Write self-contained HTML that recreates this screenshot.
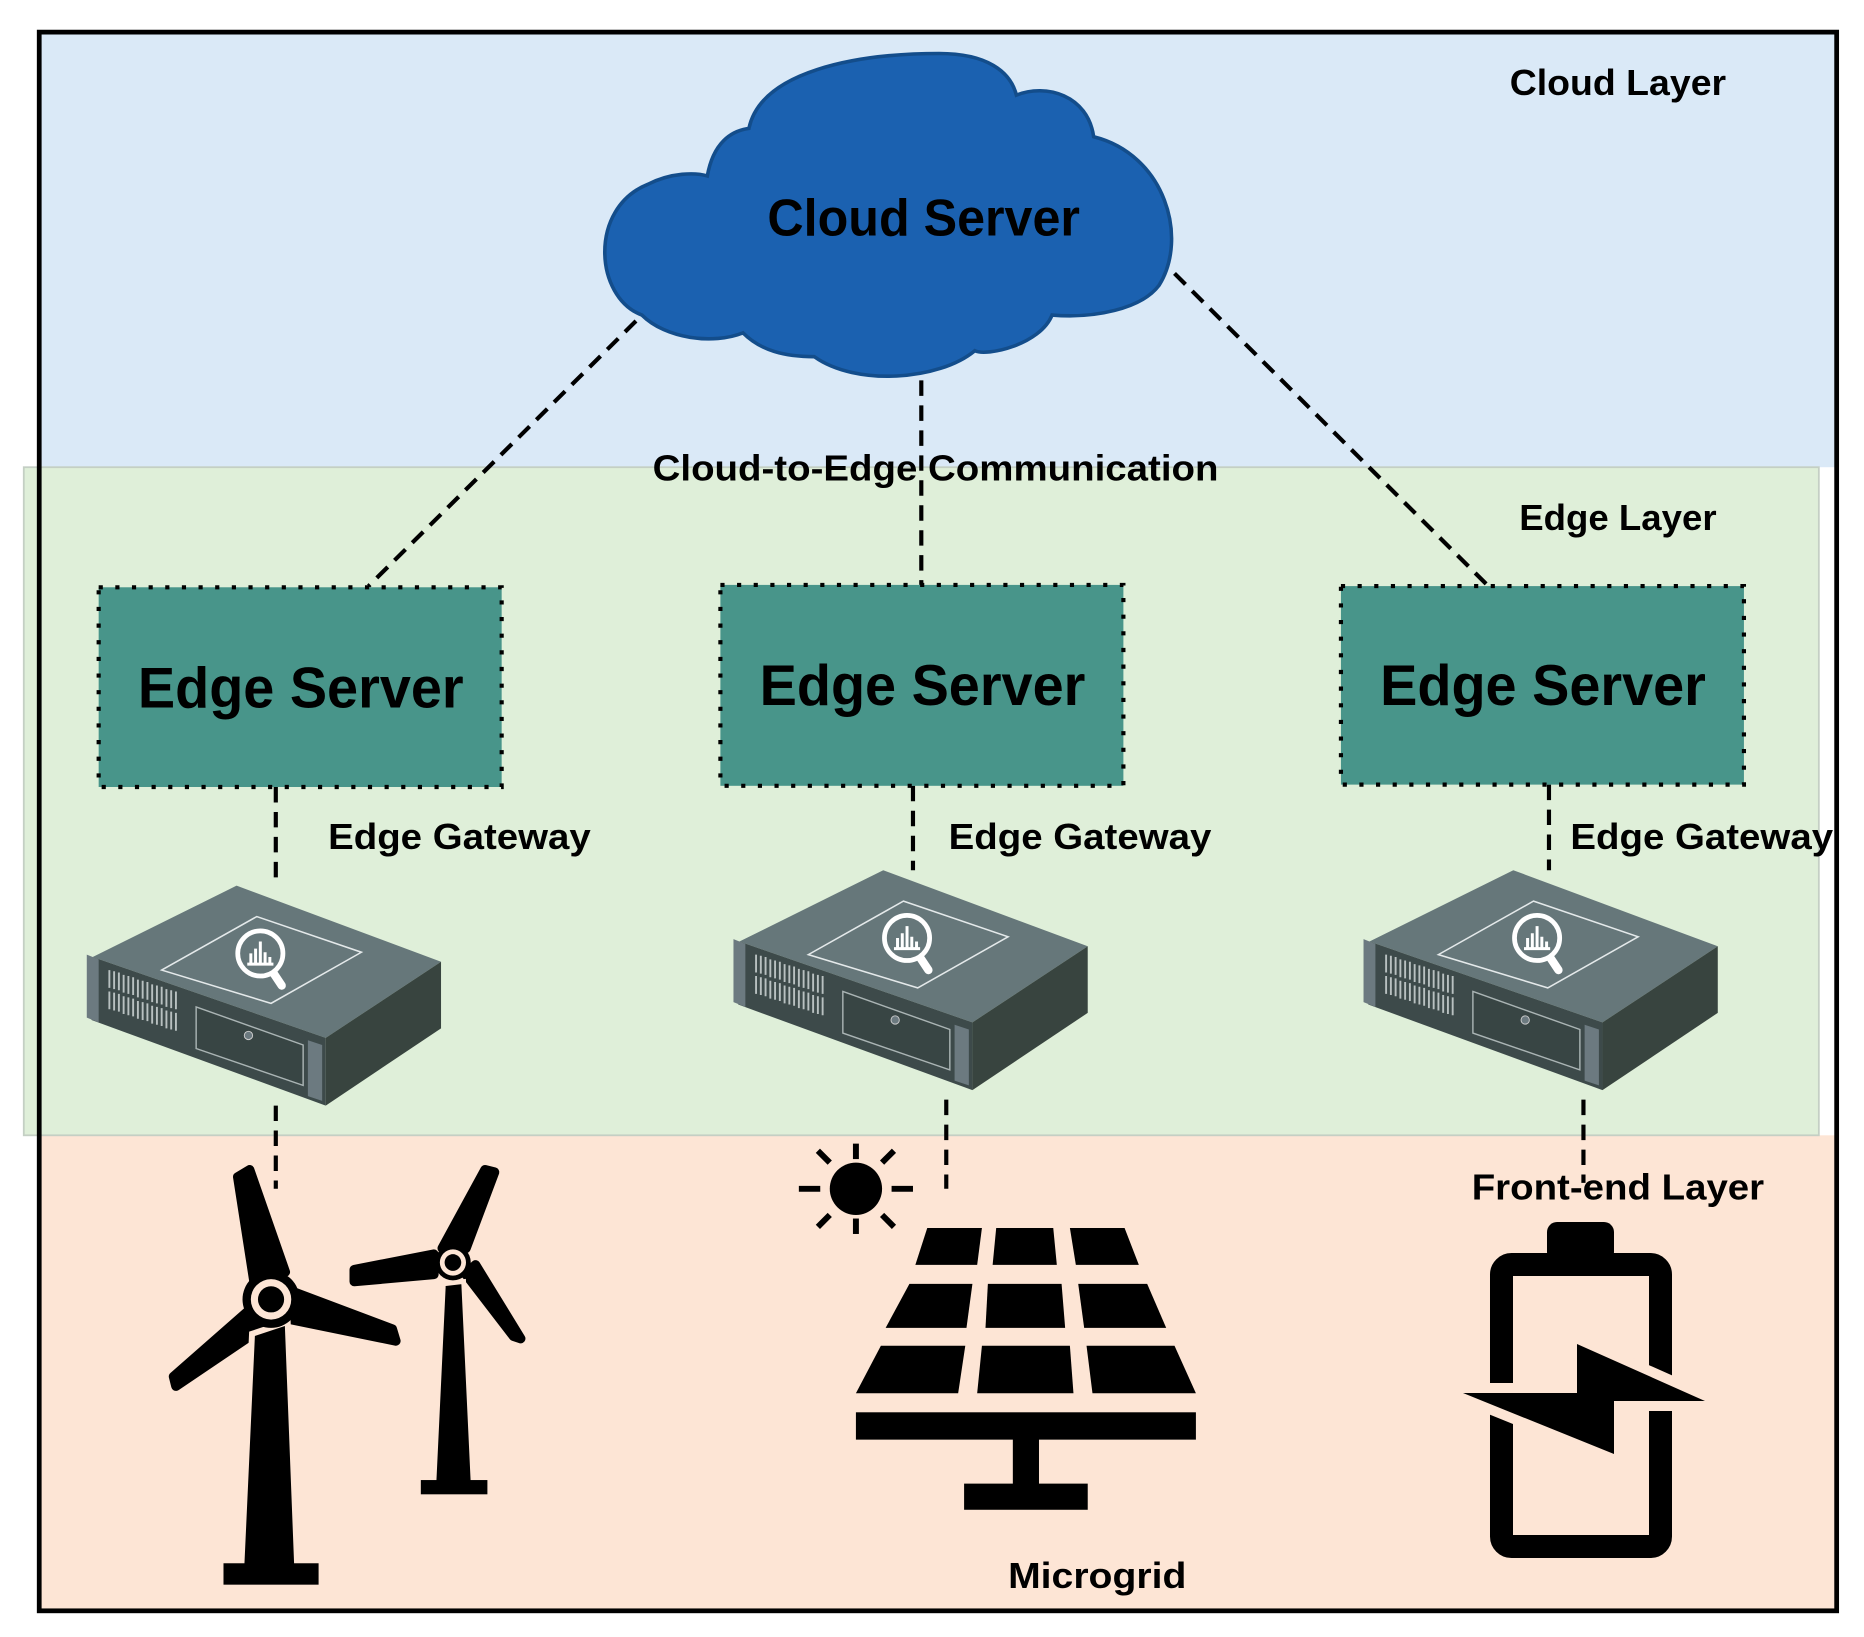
<!DOCTYPE html>
<html><head><meta charset="utf-8"><style>html,body{margin:0;padding:0;background:#fff}svg{display:block}text{font-family:"Liberation Sans",sans-serif;font-weight:bold;fill:#000}</style></head>
<body>
<svg width="1864" height="1637" viewBox="0 0 1568 1377" xmlns="http://www.w3.org/2000/svg">
<defs>
<g id="srv">
<polygon points="122,0 294,64 197,128 1,60" fill="#66777a"/>
<polygon points="1,60 197,128 197,185 0,113" fill="#3d4a4a"/>
<polygon points="197,128 294,64 294,120 197,185" fill="#38443f"/>
<polygon points="-4,58 6,62 6,115 -4,111" fill="#6c7a80"/>
<polygon points="182,130 194,134 194,181 182,177" fill="#6c7a80"/>
<polygon points="139,26 227,56 151,99 59,71" fill="none" stroke="#e4e9ea" stroke-width="1.3"/>
<polygon points="88,102 178,134 178,168 88,137" fill="#384544" stroke="#aab4b4" stroke-width="1.2"/>
<circle cx="132" cy="126" r="3.5" fill="#6c7a80" stroke="#ccc" stroke-width="0.8"/>
<g stroke="#b8c0c0" stroke-width="1.6">
<path d="M15,71v15M19,72v15M23,73v15M27,75v15M31,76v15M35,77v15M39,79v15M43,80v15M47,81v15M51,83v15M55,84v15M59,85v15M63,87v15M67,88v15M71,89v15"/>
<path d="M15,89v15M19,90v15M23,91v15M27,93v15M31,94v15M35,95v15M39,97v15M43,98v15M47,99v15M51,101v15M55,102v15M59,103v15M63,105v15M67,106v15M71,107v15"/>
</g>
<line x1="150" y1="69" x2="160" y2="84" stroke="#fff" stroke-width="7" stroke-linecap="round"/>
<circle cx="142" cy="57" r="19" fill="#66777a" stroke="#fff" stroke-width="4"/>
<path d="M134,65v-8M138,65v-12M142,65v-18M146,65v-9M150,65v-5M131,66h22" stroke="#fff" stroke-width="2.5"/>
</g>
</defs>
<rect x="33" y="27" width="1512" height="366" fill="#dae9f7"/>
<rect x="33" y="955" width="1512" height="400" fill="#fde5d5"/>
<rect x="20" y="393" width="1510" height="562" fill="#dfefd9" stroke="#c4cfc4" stroke-width="1.5"/>
<rect x="33" y="27" width="1512" height="1328" fill="none" stroke="#000" stroke-width="4"/>

<path d="M540,265 C500,250 495,175 545,155 C565,145 585,145 595,148 C600,120 615,110 630,108 C640,60 720,45 790,45 C830,45 850,60 855,80 C880,70 915,80 920,115 C980,130 1000,200 975,240 C960,260 920,268 885,265 C875,290 830,300 820,295 C790,320 720,325 685,300 C660,300 640,295 625,280 C600,290 560,285 540,265 Z" fill="#1b61b0" stroke="#134d8b" stroke-width="3"/>
<text x="777" y="198" font-size="44" text-anchor="middle" textLength="263" lengthAdjust="spacingAndGlyphs">Cloud Server</text>
<text x="1270" y="80" font-size="30" textLength="182" lengthAdjust="spacingAndGlyphs">Cloud Layer</text>

<g stroke="#000" stroke-width="3.5" stroke-dasharray="13,8" fill="none">
<line x1="535" y1="270" x2="310" y2="493"/>
<line x1="775" y1="320" x2="775" y2="492"/>
<line x1="988" y1="230" x2="1252" y2="493"/>
<line x1="232" y1="662" x2="232" y2="745"/>
<line x1="768" y1="661" x2="768" y2="732"/>
<line x1="1303" y1="660" x2="1303" y2="732"/>
<line x1="232" y1="930" x2="232" y2="1000"/>
<line x1="796" y1="925" x2="796" y2="1000"/>
<line x1="1332" y1="925" x2="1332" y2="995"/>
</g>
<text x="787" y="404" font-size="30" text-anchor="middle" textLength="476" lengthAdjust="spacingAndGlyphs">Cloud-to-Edge Communication</text>
<text x="1278" y="446" font-size="30" textLength="166" lengthAdjust="spacingAndGlyphs">Edge Layer</text>

<g fill="#48958a" stroke="#000" stroke-width="3.5" stroke-dasharray="3.5,10.5">
<rect x="83" y="494" width="339" height="168"/>
<rect x="606" y="492" width="339" height="169"/>
<rect x="1128" y="493" width="339" height="167"/>
</g>
<text x="253" y="595" font-size="48" text-anchor="middle" textLength="274" lengthAdjust="spacingAndGlyphs">Edge Server</text>
<text x="776" y="593" font-size="48" text-anchor="middle" textLength="274" lengthAdjust="spacingAndGlyphs">Edge Server</text>
<text x="1298" y="593" font-size="48" text-anchor="middle" textLength="274" lengthAdjust="spacingAndGlyphs">Edge Server</text>
<text x="276" y="714" font-size="30" textLength="221" lengthAdjust="spacingAndGlyphs">Edge Gateway</text>
<text x="798" y="714" font-size="30" textLength="221" lengthAdjust="spacingAndGlyphs">Edge Gateway</text>
<text x="1321" y="714" font-size="30" textLength="221" lengthAdjust="spacingAndGlyphs">Edge Gateway</text>

<use href="#srv" x="77" y="745"/>
<use href="#srv" x="621" y="732"/>
<use href="#srv" x="1151" y="732"/>

<text x="1238" y="1009" font-size="30" textLength="246" lengthAdjust="spacingAndGlyphs">Front-end Layer</text>
<text x="848" y="1336" font-size="30" textLength="150" lengthAdjust="spacingAndGlyphs">Microgrid</text>

<g fill="#000" stroke="#000" stroke-width="8" stroke-linejoin="round">
<polygon points="214,1080 200,990 210,984 240,1070"/>
<polygon points="245,1086 330,1118 333,1128 245,1110"/>
<polygon points="212,1100 146,1158 148,1166 228,1112"/>
<polygon points="372,1050 408,984 416,986 392,1050"/>
<polygon points="365,1055 298,1068 298,1078 365,1072"/>
<polygon points="392,1072 432,1124 438,1126 400,1064"/>
</g>
<polygon points="212,1122 242,1112 250,1318 203,1318" fill="#000" stroke="#fde5d5" stroke-width="5"/>
<rect x="188" y="1315" width="80" height="18" fill="#000"/>
<polygon points="373,1080 390,1078 398,1248 365,1248" fill="#000" stroke="#fde5d5" stroke-width="4"/>
<rect x="354" y="1245" width="56" height="12" fill="#000"/>
<circle cx="228" cy="1093" r="24" fill="#000"/>
<circle cx="228" cy="1093" r="17" fill="#fde5d5"/>
<circle cx="228" cy="1093" r="11" fill="#000"/>
<circle cx="381" cy="1062" r="15" fill="#000"/>
<circle cx="381" cy="1062" r="11" fill="#fde5d5"/>
<circle cx="381" cy="1062" r="7" fill="#000"/>

<circle cx="720" cy="1000" r="22" fill="#000"/>
<g stroke="#000" stroke-width="5">
<line x1="720" y1="962" x2="720" y2="975"/><line x1="720" y1="1025" x2="720" y2="1038"/>
<line x1="672" y1="1000" x2="690" y2="1000"/><line x1="750" y1="1000" x2="768" y2="1000"/>
<line x1="688" y1="968" x2="698" y2="978"/><line x1="742" y1="1022" x2="752" y2="1032"/>
<line x1="752" y1="968" x2="742" y2="978"/><line x1="698" y1="1022" x2="688" y2="1032"/>
</g>
<g fill="#000">
<polygon points="780,1033 826,1033 822,1064 770,1064"/>
<polygon points="838,1033 886,1033 889,1064 835,1064"/>
<polygon points="900,1033 946,1033 958,1064 905,1064"/>
<polygon points="765,1080 818,1080 813,1117 745,1117"/>
<polygon points="831,1080 893,1080 896,1117 829,1117"/>
<polygon points="907,1080 965,1080 981,1117 912,1117"/>
<polygon points="741,1132 812,1132 806,1172 720,1172"/>
<polygon points="826,1132 900,1132 903,1172 822,1172"/>
<polygon points="914,1132 988,1132 1006,1172 919,1172"/>
<rect x="720" y="1188" width="286" height="23"/>
<rect x="852" y="1210" width="22" height="40"/>
<rect x="811" y="1248" width="104" height="22"/>
</g>
<g transform="scale(0.84120)">
<rect x="1547" y="1222" width="67" height="40" rx="10" fill="#000"/>
<rect x="1501.5" y="1264.5" width="159" height="282" rx="10" fill="none" stroke="#000" stroke-width="23"/>
<polygon points="1463,1393 1577,1393 1577,1344 1705,1401 1614,1401 1614,1454" fill="#fde5d5" stroke="#fde5d5" stroke-width="20" stroke-linejoin="miter"/>
<polygon points="1463,1393 1577,1393 1577,1344 1705,1401 1614,1401 1614,1454" fill="#000"/>
</g>
</svg>
</body></html>
